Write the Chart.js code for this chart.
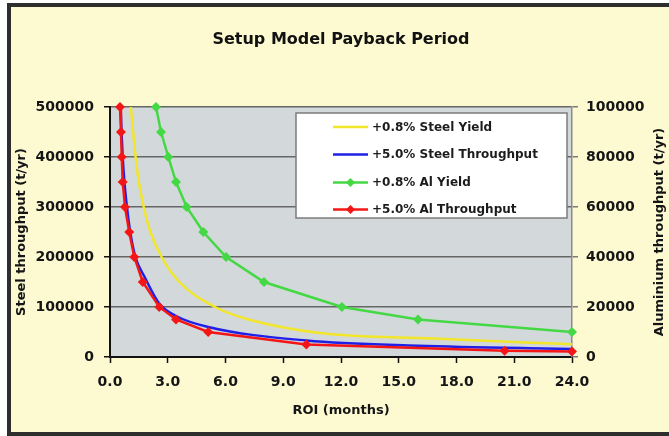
<!DOCTYPE html>
<html>
<head>
<meta charset="utf-8">
<script src="https://cdn.jsdelivr.net/npm/chart.js@4.4.0/dist/chart.umd.min.js"></script>
<style>
  html, body { margin: 0; padding: 0; background: #ffffff; }
  canvas { display: block; }
</style>
</head>
<body>
<canvas id="paybackChart" width="669" height="436"></canvas>
<script>
// valores
const roiTicks = [0, 3, 6, 9, 12, 15, 18, 21, 24];
const steelTicks = [0, 100000, 200000, 300000, 400000, 500000];
const aluTicks = [0, 20000, 40000, 60000, 80000, 100000];

const seriesLabels = ['+0.8% Steel Yield', '+5.0% Steel Throughput', '+0.8% Al Yield', '+5.0% Al Throughput'];

const steelYieldRoi = [1.08, 1.2, 1.33, 1.5, 1.75, 2.1, 2.68, 3.6, 5.45, 7.2, 10.9, 16.8, 24.0];
const steelYieldT = [500000, 450000, 400000, 350000, 300000, 250000, 200000, 150000, 100000, 75000, 48000, 36800, 25400];

const steelThruRoi = [0.55, 0.6, 0.66, 0.75, 0.88, 1.05, 1.32, 1.8, 2.56, 3.43, 5.1, 10.2, 16.0, 24.0];
const steelThruT = [500000, 450000, 400000, 350000, 300000, 250000, 200000, 160000, 107000, 82000, 60000, 33000, 22500, 16000];

const alYieldRoi = [2.39, 2.65, 3.03, 3.43, 3.98, 4.85, 6.03, 8.0, 12.05, 16.0, 24.0];
const alYieldT = [100000, 90000, 80000, 70000, 60000, 50000, 40000, 30000, 20000, 15000, 10000];

const alThruRoi = [0.52, 0.57, 0.61, 0.66, 0.78, 1.0, 1.26, 1.7, 2.56, 3.43, 5.1, 10.2, 20.5, 24.0];
const alThruT = [100000, 90000, 80000, 70000, 60000, 50000, 40000, 30000, 20000, 15000, 10000, 5000, 2500, 2200];

const colors = ['#f2e62a', '#1f1fe8', '#44d844', '#f41616'];

function toPoints(xs, ys) {
  return xs.map((x, i) => ({x: x, y: ys[i]}));
}

Chart.defaults.font.family = 'DejaVu Sans';
Chart.defaults.color = '#151515';

// fundo creme, moldura e area cinza do grafico
const backgroundPlugin = {
  id: 'fundo',
  beforeDraw(chart) {
    const ctx = chart.ctx;
    const a = chart.chartArea;
    ctx.save();
    ctx.fillStyle = '#ffffff';
    ctx.fillRect(0, 0, chart.width, chart.height);
    ctx.fillStyle = '#fdfad2';
    ctx.fillRect(9, 5, chart.width, chart.height - 8);
    ctx.strokeStyle = '#2e2e2e';
    ctx.lineWidth = 4;
    ctx.beginPath();
    ctx.moveTo(9, chart.height + 5);
    ctx.lineTo(9, 5);
    ctx.lineTo(chart.width + 5, 5);
    ctx.moveTo(9, chart.height - 2);
    ctx.lineTo(chart.width + 5, chart.height - 2);
    ctx.stroke();
    ctx.fillStyle = '#d3d9db';
    ctx.fillRect(a.left, a.top, a.right - a.left, a.bottom - a.top);
    ctx.restore();
  }
};

// legenda dentro da area e titulo do eixo direito
const legendPlugin = {
  id: 'legendaCaixa',
  afterDraw(chart) {
    const ctx = chart.ctx;
    ctx.save();
    ctx.fillStyle = '#ffffff';
    ctx.fillRect(296, 113, 271, 105);
    ctx.strokeStyle = '#7c7c7c';
    ctx.lineWidth = 1.5;
    ctx.strokeRect(296, 113, 271, 105);
    const rows = [127, 154.5, 182.5, 209.5];
    chart.data.datasets.forEach((ds, i) => {
      const y = rows[i];
      ctx.strokeStyle = ds.borderColor;
      ctx.lineWidth = 2.5;
      ctx.beginPath();
      ctx.moveTo(333, y);
      ctx.lineTo(368, y);
      ctx.stroke();
      if (ds.pointRadius > 0) {
        ctx.fillStyle = ds.borderColor;
        ctx.beginPath();
        ctx.moveTo(350.5, y - 4.5);
        ctx.lineTo(355, y);
        ctx.lineTo(350.5, y + 4.5);
        ctx.lineTo(346, y);
        ctx.closePath();
        ctx.fill();
      }
      ctx.fillStyle = '#1c1c1c';
      ctx.font = 'bold 12px "DejaVu Sans"';
      ctx.textBaseline = 'middle';
      ctx.textAlign = 'left';
      ctx.fillText(ds.label, 372, y + 0.5);
    });

    ctx.translate(660, 232);
    ctx.rotate(-Math.PI / 2);
    ctx.font = 'bold 13px "DejaVu Sans"';
    ctx.textAlign = 'center';
    ctx.textBaseline = 'middle';
    ctx.fillStyle = '#151515';
    ctx.fillText('Aluminium throughput (t/yr)', 0, 0);
    ctx.restore();
  }
};

const ctx = document.getElementById('paybackChart').getContext('2d');
const paybackChart = new Chart(ctx, {
  type: 'line',
  data: {
    datasets: [
      {
        label: seriesLabels[0],
        data: toPoints(steelYieldRoi, steelYieldT),
        yAxisID: 'y',
        borderColor: colors[0],
        backgroundColor: colors[0],
        borderWidth: 2.5,
        pointRadius: 0,
        cubicInterpolationMode: 'monotone',
        clip: false,
        order: 3
      },
      {
        label: seriesLabels[1],
        data: toPoints(steelThruRoi, steelThruT),
        yAxisID: 'y',
        borderColor: colors[1],
        backgroundColor: colors[1],
        borderWidth: 2.5,
        pointRadius: 0,
        cubicInterpolationMode: 'monotone',
        clip: false,
        order: 2
      },
      {
        label: seriesLabels[2],
        data: toPoints(alYieldRoi, alYieldT),
        yAxisID: 'y1',
        borderColor: colors[2],
        backgroundColor: colors[2],
        borderWidth: 2.5,
        pointStyle: 'rectRot',
        pointRadius: 5,
        pointBorderWidth: 0,
        tension: 0,
        clip: false,
        order: 1
      },
      {
        label: seriesLabels[3],
        data: toPoints(alThruRoi, alThruT),
        yAxisID: 'y1',
        borderColor: colors[3],
        backgroundColor: colors[3],
        borderWidth: 2.5,
        pointStyle: 'rectRot',
        pointRadius: 5,
        pointBorderWidth: 0,
        tension: 0,
        clip: false,
        order: 0
      }
    ]
  },
  options: {
    responsive: false,
    animation: false,
    layout: { padding: 0 },
    plugins: {
      legend: { display: false },
      tooltip: { enabled: false },
      title: {
        display: true,
        text: 'Setup Model Payback Period',
        fullSize: false,
        color: '#111111',
        font: { size: 16, weight: 'bold' },
        padding: { top: 30, bottom: 57.8 }
      }
    },
    scales: {
      x: {
        type: 'linear',
        position: 'bottom',
        min: 0,
        max: 24,
        afterBuildTicks: (scale) => { scale.ticks = roiTicks.map(v => ({value: v})); },
        afterFit: (scale) => { scale.height = 79; },
        ticks: {
          callback: (v) => Number(v).toFixed(1),
          font: { size: 14, weight: 'bold' },
          padding: 11,
          maxRotation: 0
        },
        grid: { drawOnChartArea: false, tickLength: 6, tickColor: '#111111', tickWidth: 1.5 },
        border: { color: '#111111', width: 2 },
        title: {
          display: true,
          text: 'ROI (months)',
          font: { size: 13, weight: 'bold' },
          padding: { top: 0, bottom: 18 }
        }
      },
      y: {
        type: 'linear',
        position: 'left',
        min: 0,
        max: 500000,
        afterBuildTicks: (scale) => { scale.ticks = steelTicks.map(v => ({value: v})); },
        afterFit: (scale) => { scale.width = 110; },
        ticks: {
          callback: (v) => String(v),
          font: { size: 14, weight: 'bold' },
          padding: 10
        },
        grid: { color: '#666666', lineWidth: 1.5, tickLength: 6, tickColor: '#111111' },
        border: { color: '#111111', width: 2 },
        title: {
          display: true,
          text: 'Steel throughput (t/yr)',
          font: { size: 13, weight: 'bold' },
          padding: { top: 14, bottom: 0 }
        }
      },
      y1: {
        type: 'linear',
        position: 'right',
        min: 0,
        max: 100000,
        afterBuildTicks: (scale) => { scale.ticks = aluTicks.map(v => ({value: v})); },
        afterFit: (scale) => { scale.width = 97; },
        ticks: {
          callback: (v) => String(v),
          font: { size: 14, weight: 'bold' },
          padding: 8
        },
        grid: { drawOnChartArea: false, tickLength: 6, tickColor: '#7a7a7a', lineWidth: 1.5 },
        border: { color: '#8a8a8a', width: 1.5 }
      }
    }
  },
  plugins: [backgroundPlugin, legendPlugin]
});
</script>
</body>
</html>
